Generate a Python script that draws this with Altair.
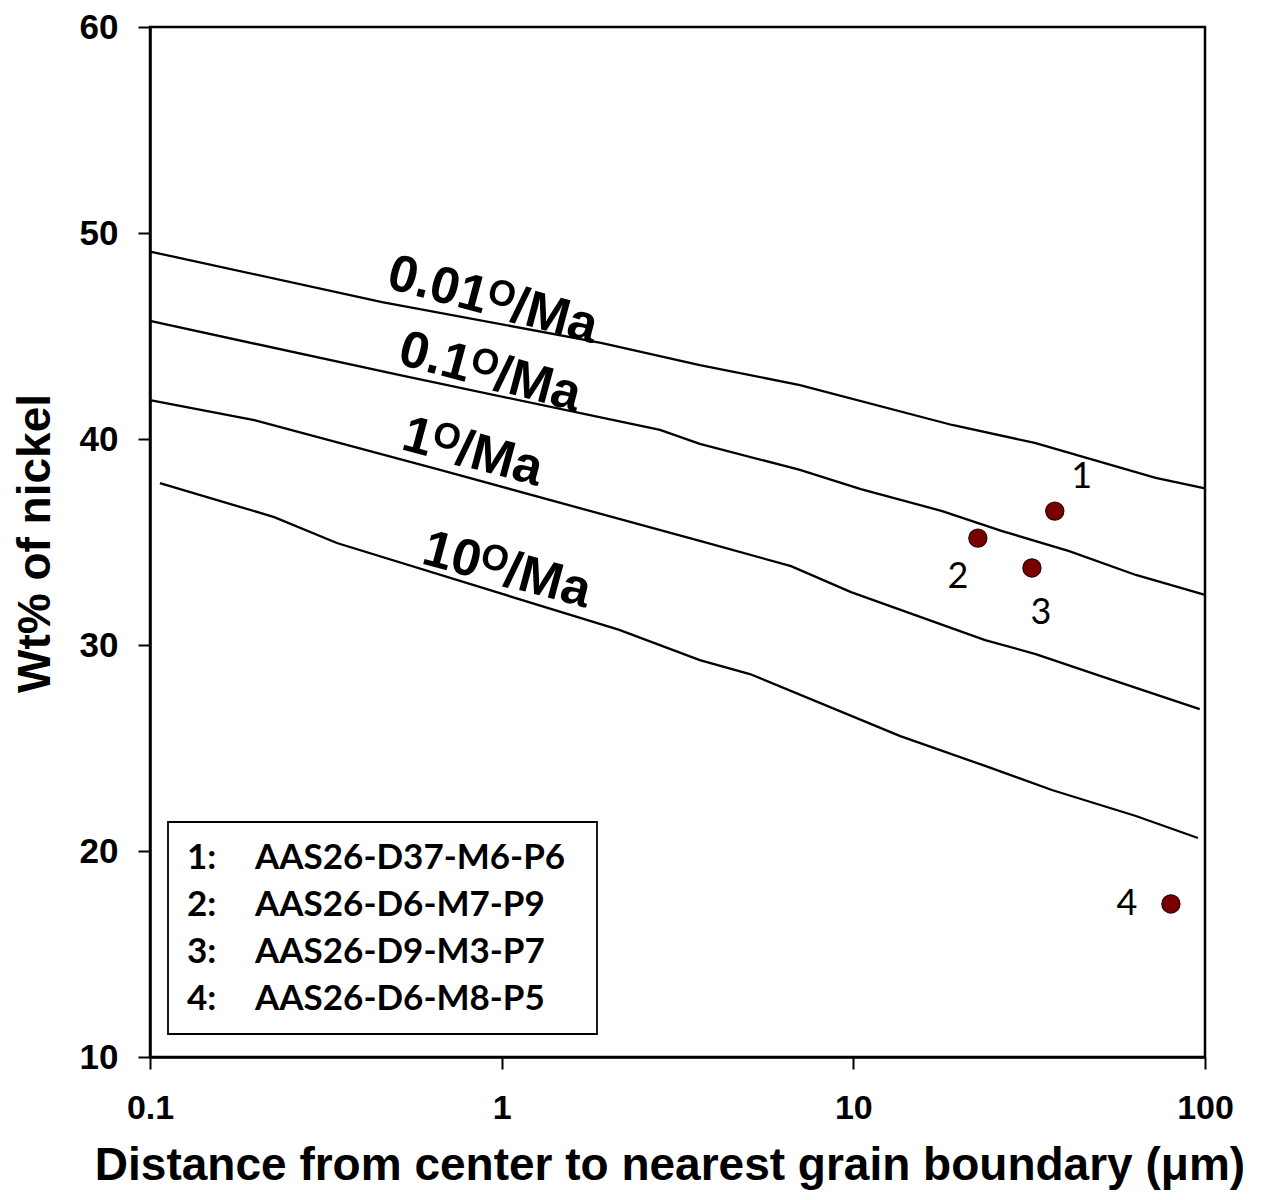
import altair as alt
import pandas as pd

# ---- data ----
rate_labels = ["0.01ᴼ/Ma", "0.1ᴼ/Ma", "1ᴼ/Ma", "10ᴼ/Ma"]

c001_x = [0.1, 0.457, 1.93, 3.66, 7.05, 19.1, 32.8, 72.4, 100]
c001_y = [49.1, 46.65, 44.66, 43.59, 42.62, 40.68, 39.81, 38.11, 37.6]

c01_x = [0.1, 0.51, 2.82, 3.66, 7.05, 10.5, 17.9, 26.5, 41.1, 63.6, 100]
c01_y = [45.73, 43.11, 40.44, 39.76, 38.5, 37.57, 36.5, 35.53, 34.56, 33.4, 32.43]

c1_x = [0.1, 0.198, 0.668, 3.66, 6.65, 9.85, 23.7, 33.0, 51.3, 96.6]
c1_y = [41.89, 40.92, 38.5, 35.05, 33.83, 32.57, 30.24, 29.56, 28.45, 26.89]

c10_x = [0.1067, 0.2255, 0.34, 2.16, 3.66, 5.08, 13.6, 23.7, 36.7, 63.6, 95.5]
c10_y = [37.86, 36.21, 34.95, 30.73, 29.27, 28.59, 25.58, 24.13, 22.96, 21.7, 20.63]

label_x = [0.944, 0.927, 0.828, 1.035]
label_y = [46.75, 43.25, 39.37, 33.64]

pt_id = ["1", "2", "3", "4"]
pt_x = [37.4, 22.6, 32.2, 80.0]
pt_y = [36.5, 35.19, 33.74, 17.43]
pt_names = ["AAS26-D37-M6-P6", "AAS26-D6-M7-P9", "AAS26-D9-M3-P7", "AAS26-D6-M8-P5"]

# ---- tables ----
rows = []
for name, xs, ys in zip(rate_labels, [c001_x, c01_x, c1_x, c10_x], [c001_y, c01_y, c1_y, c10_y]):
    for i, (xv, yv) in enumerate(zip(xs, ys)):
        rows.append({"curve": name, "order": i, "x": xv, "y": yv})
curves = pd.DataFrame(rows)
labels = pd.DataFrame({"label": rate_labels, "x": label_x, "y": label_y})
pts = pd.DataFrame({"id": pt_id, "x": pt_x, "y": pt_y})

W, H = 1055, 1030
xscale = alt.Scale(type="log", domain=[0.1, 100], nice=False)
yscale = alt.Scale(domain=[10, 60], nice=False)

xaxis = alt.Axis(values=[0.1, 1, 10, 100], format="~g", title="Distance from center to nearest grain boundary (μm)",
                 grid=False, tickSize=12, labelPadding=22, labelFlush=False, labelFontSize=34,
                 titleY=108, titleX=W / 2 - 8, titleBaseline="middle", titleFontSize=46)
yaxis = alt.Axis(values=[10, 20, 30, 40, 50, 60], title="Wt% of nickel", grid=False, tickSize=12,
                 labelPadding=20, labelFlush=False, labelFontSize=35,
                 titleX=-115, titleY=516, titleBaseline="middle", titleAngle=-90, titleFontSize=46)

lines = alt.Chart(curves).mark_line(color="black", strokeWidth=2.3).encode(
    x=alt.X("x:Q", scale=xscale, axis=xaxis),
    y=alt.Y("y:Q", scale=yscale, axis=yaxis),
    detail="curve:N", order="order:Q"
)

curve_text = alt.Chart(labels).mark_text(
    font="Liberation Sans", fontWeight="bold", fontSize=52, angle=15, color="black"
).encode(x=alt.X("x:Q", scale=xscale), y=alt.Y("y:Q", scale=yscale), text="label:N")

dots = alt.Chart(pts).mark_point(filled=True, shape="circle", size=330, color="#7a0000",
                                 stroke="#2a0000", strokeWidth=1.2, opacity=1).encode(
    x=alt.X("x:Q", scale=xscale), y=alt.Y("y:Q", scale=yscale)
)

offsets = {"1": (27, -34), "2": (-20, 39), "3": (9, 45), "4": (-44, 0)}
pt_labels = []
for pid, (dx, dy) in offsets.items():
    pt_labels.append(
        alt.Chart(pts).transform_filter(alt.datum.id == pid).mark_text(
            font="Lato", fontSize=36, color="black", dx=dx, dy=dy
        ).encode(x=alt.X("x:Q", scale=xscale), y=alt.Y("y:Q", scale=yscale), text="id:N")
    )

legend_box = alt.Chart(pd.DataFrame({"a": [0]})).mark_rect(
    fill="white", stroke="black", strokeWidth=1.8
).encode(x=alt.value(18), x2=alt.value(447), y=alt.value(795), y2=alt.value(1007))

legend_layers = []
row_y = [831, 878, 925, 972]
for i, (pid, nm) in enumerate(zip(pt_id, pt_names)):
    d = pd.DataFrame({"num": [f"{pid}:"], "name": [nm]})
    legend_layers.append(alt.Chart(d).mark_text(
        font="Lato", fontWeight="bold", fontSize=35, align="left", baseline="middle", color="black"
    ).encode(x=alt.value(37), y=alt.value(row_y[i]), text="num:N"))
    legend_layers.append(alt.Chart(d).mark_text(
        font="Lato", fontWeight="bold", fontSize=35, align="left", baseline="middle", color="black"
    ).encode(x=alt.value(105), y=alt.value(row_y[i]), text="name:N"))

chart = alt.layer(lines, curve_text, dots, *pt_labels, legend_box, *legend_layers).properties(
    width=W, height=H,
    autosize=alt.AutoSizeParams(type="none"),
    padding={"left": 150, "top": 27, "right": 62, "bottom": 143},
    background="white",
).configure_view(
    stroke="black", strokeWidth=2.5
).configure_axis(
    domainColor="black", domainWidth=2.5, tickColor="black", tickWidth=2,
    labelFont="Liberation Sans", labelFontWeight="bold", labelColor="black",
    titleFont="Liberation Sans", titleFontWeight="bold", titleColor="black",
)

chart.save("out.html", embed_options={"renderer": "svg", "actions": False})
